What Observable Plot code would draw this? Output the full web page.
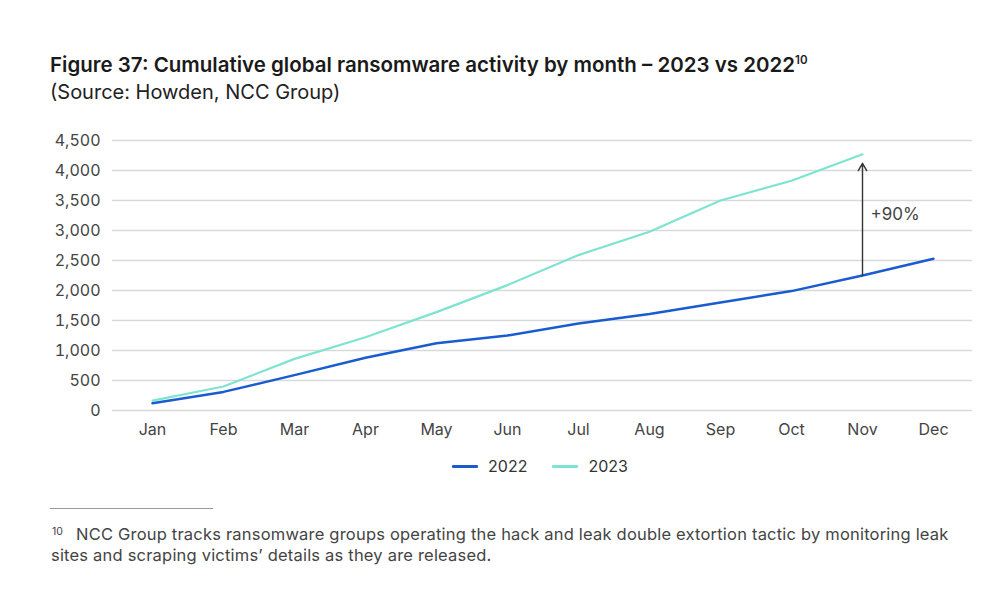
<!DOCTYPE html>
<html>
<head>
<meta charset="utf-8">
<script src="https://cdn.jsdelivr.net/npm/d3@7"></script>
<script src="https://cdn.jsdelivr.net/npm/@observablehq/plot@0.6"></script>
<style>
  html, body { margin: 0; padding: 0; background: #fff; }
  body { width: 1000px; height: 604px; position: relative; font-family: Inter, "Noto Sans", sans-serif; color: #1a1a1a; }
  .title { position: absolute; left: 50px; top: 55px; font-size: 20.5px; line-height: 20.5px; font-weight: 600; white-space: nowrap; }
  .title sup { font-size: 11.5px; font-weight: 600; vertical-align: 8px; line-height: 0; }
  .subtitle { position: absolute; left: 50px; top: 82px; font-size: 20px; line-height: 20px; font-weight: 400; color: #222; white-space: nowrap; }
  #chart { position: absolute; left: 0; top: 120px; }
  .legend { position: absolute; top: 456px; left: 0; width: 1000px; display: flex; justify-content: center; gap: 25px; font-size: 16px; color: #333; padding-left: 80px; box-sizing: border-box; }
  .legend span { display: inline-flex; align-items: center; gap: 10px; }
  .legend i { display: inline-block; width: 26px; height: 3px; border-radius: 1px; }
  .rule { position: absolute; left: 50px; top: 508px; width: 163px; height: 1px; background: #999; }
  .fnmark { position: absolute; left: 52px; top: 527px; font-size: 10.5px; line-height: 10.5px; color: #444; }
  .note { position: absolute; font-size: 16.5px; line-height: 21px; letter-spacing: 0.2px; color: #444; white-space: nowrap; }
</style>
</head>
<body>
<div class="title">Figure 37: Cumulative global ransomware activity by month – 2023 vs 2022<sup>10</sup></div>
<div class="subtitle">(Source: Howden, NCC Group)</div>
<div id="chart"></div>
<div class="legend">
  <span><i style="background:#1a5ccf"></i>2022</span>
  <span><i style="background:#7fe3d2"></i>2023</span>
</div>
<div class="rule"></div>
<div class="fnmark">10</div>
<div class="note" style="left:76px; top:524px;">NCC Group tracks ransomware groups operating the hack and leak double extortion tactic by monitoring leak</div>
<div class="note" style="left:51px; top:545px;">sites and scraping victims’ details as they are released.</div>
<script>
// Months on the x axis
const months = ["Jan", "Feb", "Mar", "Apr", "May", "Jun", "Jul", "Aug", "Sep", "Oct", "Nov", "Dec"];

// Cumulative count of ransomware victims per month
const values2022 = [120, 310, 590, 880, 1120, 1250, 1450, 1610, 1800, 1990, 2250, 2530];
const values2023 = [165, 400, 860, 1220, 1640, 2090, 2590, 2980, 3500, 3830, 4270];

// Y axis ticks
const yTicks = [0, 500, 1000, 1500, 2000, 2500, 3000, 3500, 4000, 4500];

// Year-over-year comparison shown by the arrow
const compareMonth = "Nov";
const compareLabel = "+90%";

const colors = {"2022": "#1a5ccf", "2023": "#7fe3d2"};

const rows = [
  ...values2022.map((v, i) => ({month: months[i], value: v, year: "2022"})),
  ...values2023.map((v, i) => ({month: months[i], value: v, year: "2023"}))
];

const ci = months.indexOf(compareMonth);
const arrowData = [{month: compareMonth, from: values2022[ci], to: values2023[ci]}];

const fmt = d3.format(",");

const chart = Plot.plot({
  width: 1000,
  height: 330,
  marginLeft: 112,
  marginRight: 28,
  marginTop: 20,
  marginBottom: 40,
  style: {fontFamily: "Inter, 'Noto Sans', sans-serif", fontSize: "16px", color: "#444", background: "transparent"},
  x: {type: "point", domain: months, padding: 0.5, label: null},
  y: {domain: [0, 4500], label: null},
  marks: [
    Plot.ruleY(yTicks, {stroke: "#d9d9d9", strokeWidth: 1.5}),
    Plot.axisY({ticks: yTicks, tickSize: 0, tickPadding: 12, tickFormat: fmt, fill: "#444"}),
    Plot.axisX({tickSize: 0, tickPadding: 13, fill: "#444"}),
    Plot.line(rows.filter(d => d.year === "2023"), {x: "month", y: "value", stroke: colors["2023"], strokeWidth: 2.2}),
    Plot.line(rows.filter(d => d.year === "2022"), {x: "month", y: "value", stroke: colors["2022"], strokeWidth: 2.5}),
    Plot.arrow(arrowData, {
      x1: "month", x2: "month", y1: "from", y2: "to",
      stroke: "#333", strokeWidth: 1.4, headLength: 9, insetEnd: 9
    }),
    Plot.text(arrowData, {
      x: "month", y: d => (d.from + d.to) / 2, text: () => compareLabel,
      textAnchor: "start", dx: 8, fill: "#444", fontSize: 17
    })
  ]
});

document.getElementById("chart").appendChild(chart);
</script>
</body>
</html>
